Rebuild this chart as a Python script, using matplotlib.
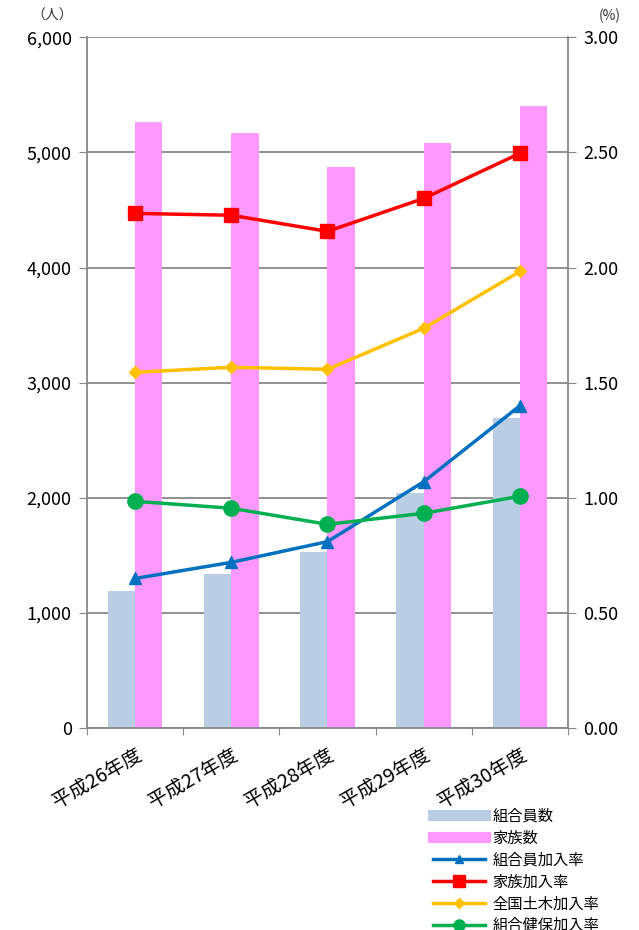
import matplotlib
matplotlib.use("Agg")
import matplotlib.pyplot as plt
from matplotlib.lines import Line2D
import numpy as np

plt.rcParams['font.family'] = ['Noto Sans CJK JP', 'DejaVu Sans']

years = ["平成26年度", "平成27年度", "平成28年度", "平成29年度", "平成30年度"]
members = [1190, 1340, 1530, 2040, 2690]
families = [5260, 5165, 4870, 5080, 5400]
member_rate = [0.65, 0.72, 0.81, 1.07, 1.40]
family_rate = [2.235, 2.227, 2.157, 2.30, 2.496]
national_rate = [1.545, 1.567, 1.558, 1.736, 1.983]
health_rate = [0.985, 0.955, 0.885, 0.933, 1.007]

fig = plt.figure(figsize=(6.39, 9.30), dpi=100)
ax = fig.add_axes([0.136, 0.217, 0.753, 0.743])
ax2 = ax.twinx()

x = np.arange(len(years))
w = 0.285
ax.bar(x - w / 2, members, w, color="#B9CDE5", zorder=2)
ax.bar(x + w / 2, families, w, color="#FF99FF", zorder=2)

ax.set_xlim(-0.5, 4.5)
ax.set_ylim(0, 6000)
ax.set_yticks(range(0, 6001, 1000))
ax.set_yticklabels(["{:,}".format(v) for v in range(0, 6001, 1000)])
ax.set_xticks(np.arange(-0.5, 5, 1))
ax.set_xticklabels([])
ax.set_xticks(x, minor=True)
ax.set_xticklabels(years, minor=True, rotation=30, ha="right", rotation_mode="anchor", fontsize=14)
ax.tick_params(axis="x", which="minor", length=0, pad=12)
ax.tick_params(axis="x", which="major", length=5, color="#888888")
ax.tick_params(axis="y", length=6, color="#888888", labelsize=13, pad=5)
ax.grid(axis="y", color="#888888", linewidth=1.3, zorder=0)
ax.set_axisbelow(True)

for sp in ["left", "bottom"]:
    ax.spines[sp].set_color("#888888")
    ax.spines[sp].set_linewidth(1.3)
ax.spines["top"].set_visible(False)
ax.spines["right"].set_visible(False)

ax2.plot(x, member_rate, color="#0070C0", lw=2.5, marker="^", ms=9, zorder=3)
ax2.plot(x, family_rate, color="#FF0000", lw=2.5, marker="s", ms=10, zorder=3)
ax2.plot(x, national_rate, color="#FFC000", lw=2.5, marker="D", ms=6, zorder=3)
ax2.plot(x, health_rate, color="#00B050", lw=2.5, marker="o", ms=11, zorder=3)
ax2.set_ylim(0, 3.0)
ax2.set_yticks(np.arange(0, 3.01, 0.5))
ax2.set_yticklabels(["{:.2f}".format(v) for v in np.arange(0, 3.01, 0.5)])
ax2.tick_params(axis="y", length=6, color="#888888", labelsize=13, pad=5)
ax2.spines["right"].set_color("#888888")
ax2.spines["right"].set_linewidth(1.3)
for sp in ["top", "left", "bottom"]:
    ax2.spines[sp].set_visible(False)

fig.text(0.082, 0.983, "（人）", fontsize=10, ha="center", va="center", color="#333333")
fig.text(0.955, 0.983, "(%)", fontsize=10, ha="center", va="center", color="#333333")

handles = [
    Line2D([], [], color="#B9CDE5", lw=8),
    Line2D([], [], color="#FF99FF", lw=8),
    Line2D([], [], color="#0070C0", lw=2.5, marker="^", ms=6),
    Line2D([], [], color="#FF0000", lw=2.5, marker="s", ms=8),
    Line2D([], [], color="#FFC000", lw=2.5, marker="D", ms=5),
    Line2D([], [], color="#00B050", lw=2.5, marker="o", ms=8),
]
labels = ["組合員数", "家族数", "組合員加入率", "家族加入率", "全国土木加入率", "組合健保加入率"]
fig.legend(handles, labels, loc="upper left", bbox_to_anchor=(0.668, 0.138),
           frameon=False, fontsize=11, handlelength=3.4, handletextpad=0.5,
           labelspacing=0.32, borderaxespad=0)

fig.savefig("out.png", dpi=100)
